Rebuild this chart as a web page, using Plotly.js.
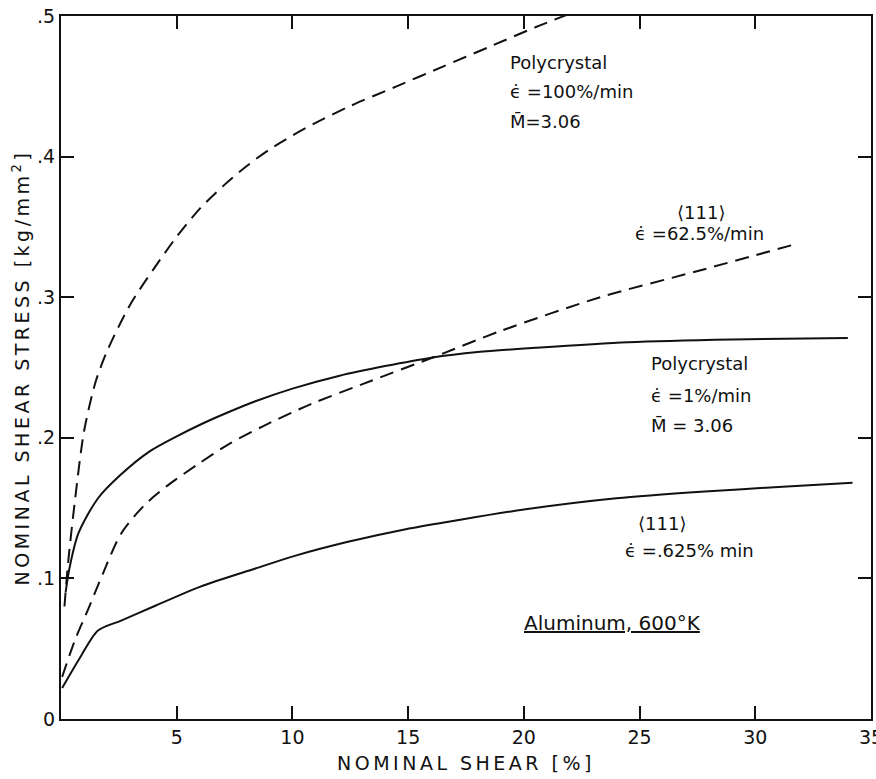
<!DOCTYPE html>
<html>
<head>
<meta charset="utf-8">
<script src="https://cdn.plot.ly/plotly-3.0.1.min.js"></script>
<style>
  html, body { margin: 0; padding: 0; background: #fff; }
  #chart { width: 876px; height: 779px; }
  .xtitle, .ytitle { letter-spacing: 3.5px; }
</style>
</head>
<body>
<div id="chart"></div>
<script>
// Polycrystal, strain rate 100%/min (dashed)
const polyFastX = [0.15, 0.3, 0.6, 1.0, 1.5, 2.0, 3.0, 4.0, 5.0, 6.0, 7.0, 8.0, 9.0, 10, 11, 12.5, 14.5, 16.5, 18.5, 20.5, 22.2];
const polyFastY = [0.08, 0.11, 0.155, 0.205, 0.24, 0.262, 0.295, 0.32, 0.343, 0.363, 0.379, 0.393, 0.405, 0.415, 0.424, 0.436, 0.450, 0.464, 0.478, 0.492, 0.503];

// Polycrystal, strain rate 1%/min (solid)
const polySlowX = [0.2, 0.35, 0.75, 1.6, 2.6, 3.8, 5, 6.1, 7.2, 8.4, 10, 12, 14, 16, 18, 20.5, 24.5, 29, 34];
const polySlowY = [0.09, 0.106, 0.132, 0.157, 0.174, 0.190, 0.201, 0.210, 0.218, 0.226, 0.235, 0.244, 0.251, 0.257, 0.261, 0.264, 0.268, 0.270, 0.271];

// <111> single crystal, 62.5%/min (dashed)
const xtalFastX = [0.05, 0.6, 1.2, 1.8, 2.6, 3.6, 4.6, 5.9, 7.2, 8.7, 10.8, 13, 16.2, 19, 23.3, 27.6, 31.8];
const xtalFastY = [0.03, 0.056, 0.079, 0.103, 0.132, 0.152, 0.166, 0.181, 0.195, 0.208, 0.224, 0.238, 0.258, 0.276, 0.300, 0.319, 0.338];

// <111> single crystal, .625%/min (solid)
const xtalSlowX = [0.05, 0.8, 1.6, 2.6, 4.0, 6.0, 8.4, 10.1, 12.4, 14.9, 17, 20, 24, 28, 31, 34.2];
const xtalSlowY = [0.022, 0.043, 0.063, 0.070, 0.080, 0.094, 0.107, 0.116, 0.126, 0.135, 0.141, 0.149, 0.157, 0.162, 0.165, 0.168];

const xTickVals = [5, 10, 15, 20, 25, 30, 35];
const xTickText = ['5', '10', '15', '20', '25', '30', '35'];
const yTickVals = [0, 0.1, 0.2, 0.3, 0.4, 0.5];
const yTickText = ['0', '.1', '.2', '.3', '.4', '.5'];

const ink = '#111';
const dashStyle = '14px,8px';

function curve(x, y, dashed) {
  return {
    x: x, y: y, type: 'scatter', mode: 'lines',
    line: { color: ink, width: 2, dash: dashed ? dashStyle : 'solid', shape: 'spline', smoothing: 0.8 },
    hoverinfo: 'skip', showlegend: false
  };
}

const data = [
  curve(polyFastX, polyFastY, true),
  curve(polySlowX, polySlowY, false),
  curve(xtalFastX, xtalFastY, true),
  curve(xtalSlowX, xtalSlowY, false)
];

const font = { family: 'DejaVu Sans, sans-serif', size: 18, color: ink };

function label(text, x, y, anchor, size) {
  return { text: text, x: x, y: y, xref: 'x', yref: 'y', xanchor: anchor || 'left', yanchor: 'middle',
           showarrow: false, font: Object.assign({}, font, size ? { size: size } : {}) };
}

const annotations = [
  label('Polycrystal', 19.3, 0.467),
  label('ϵ̇ =100%/min', 19.3, 0.446),
  label('M̄=3.06', 19.3, 0.425),
  label('⟨111⟩', 27.65, 0.360, 'center'),
  label('ϵ̇ =62.5%/min', 24.7, 0.345),
  label('Polycrystal', 25.4, 0.253),
  label('ϵ̇ =1%/min', 25.4, 0.230),
  label('M̄ = 3.06', 25.4, 0.209),
  label('⟨111⟩', 25.95, 0.139, 'center'),
  label('ϵ̇ =.625% min', 24.3, 0.120),
  label('<span style="text-decoration:underline">Aluminum, 600°K</span>', 19.9, 0.068, 'left', 20)
];

const axisCommon = {
  showline: true, linecolor: ink, linewidth: 2, mirror: 'ticks',
  ticks: 'inside', ticklen: 13, tickwidth: 2, tickcolor: ink,
  showgrid: false, zeroline: false, fixedrange: true,
  ticklabeloverflow: 'allow',
  tickfont: { family: 'DejaVu Sans, sans-serif', size: 19, color: ink }
};

const titleFont = { family: 'DejaVu Sans, sans-serif', size: 19, color: ink };

const layout = {
  width: 876, height: 779,
  margin: { l: 61, r: 5, t: 16, b: 60 },
  paper_bgcolor: '#fff', plot_bgcolor: '#fff',
  showlegend: false,
  xaxis: Object.assign({}, axisCommon, {
    range: [0, 35], tickmode: 'array', tickvals: xTickVals, ticktext: xTickText,
    title: { text: 'NOMINAL SHEAR [%]', standoff: 10, font: titleFont }
  }),
  yaxis: Object.assign({}, axisCommon, {
    range: [0, 0.5], tickmode: 'array', tickvals: yTickVals, ticktext: yTickText,
    title: { text: 'NOMINAL SHEAR STRESS [kg/mm<sup>2</sup>]', standoff: 2, font: titleFont }
  }),
  annotations: annotations
};

Plotly.newPlot('chart', data, layout, { displayModeBar: false, staticPlot: true });
</script>
</body>
</html>
